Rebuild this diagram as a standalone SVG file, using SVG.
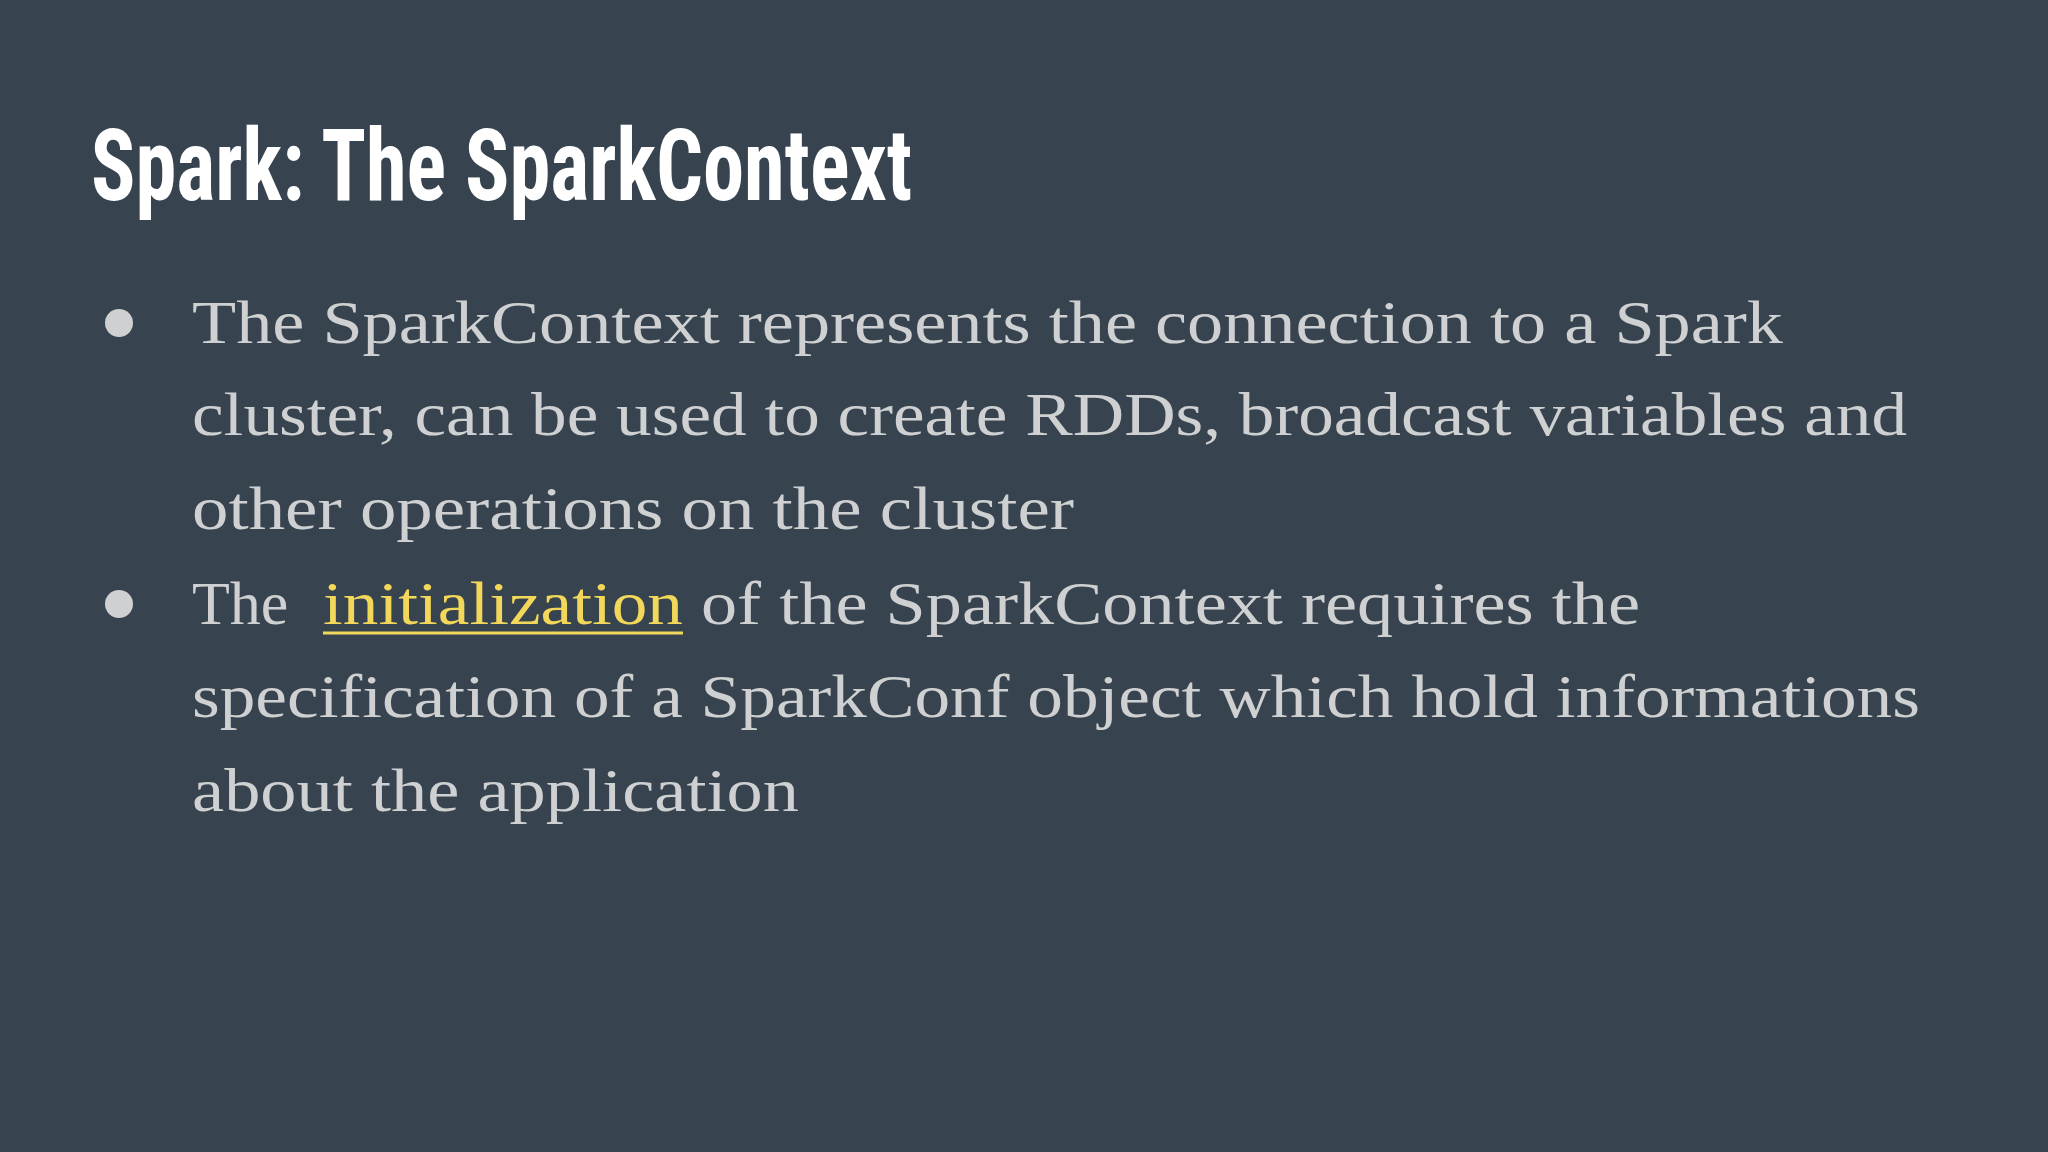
<svg xmlns="http://www.w3.org/2000/svg" width="2048" height="1152" viewBox="0 0 2048 1152">
<style>
.t{font-family:"Liberation Sans Narrow","Roboto Condensed","Liberation Sans",sans-serif;font-weight:bold;font-size:100px;fill:#ffffff}
.b{font-family:"Liberation Serif","DejaVu Serif",serif;font-size:62px;fill:#cfd0d1}
.l{fill:#f2d75a}
</style>
<rect width="2048" height="1152" fill="#37444f"/>
<g id="title"><text class="t" x="91" y="200" textLength="821" lengthAdjust="spacingAndGlyphs">Spark: The SparkContext</text></g>
<g id="bullet1">
<circle cx="119" cy="323" r="14" fill="#cfd0d1"/>
<text class="b" x="192" y="343" textLength="1591" lengthAdjust="spacingAndGlyphs">The SparkContext represents the connection to a Spark</text>
<text class="b" x="192" y="435" textLength="1715" lengthAdjust="spacingAndGlyphs">cluster, can be used to create RDDs, broadcast variables and</text>
<text class="b" x="192" y="529" textLength="882" lengthAdjust="spacingAndGlyphs">other operations on the cluster</text>
</g>
<g id="bullet2">
<circle cx="119" cy="604" r="14" fill="#cfd0d1"/>
<text class="b" x="192" y="624">The </text>
<text class="b l" x="323" y="624" textLength="360" lengthAdjust="spacingAndGlyphs">initialization</text>
<line x1="323" y1="633" x2="683" y2="633" stroke="#f2d75a" stroke-width="3"/>
<text class="b" x="701" y="624" textLength="939" lengthAdjust="spacingAndGlyphs">of the SparkContext requires the</text>
<text class="b" x="192" y="717" textLength="1728" lengthAdjust="spacingAndGlyphs">specification of a SparkConf object which hold informations</text>
<text class="b" x="192" y="811" textLength="607" lengthAdjust="spacingAndGlyphs">about the application</text>
</g>
</svg>
